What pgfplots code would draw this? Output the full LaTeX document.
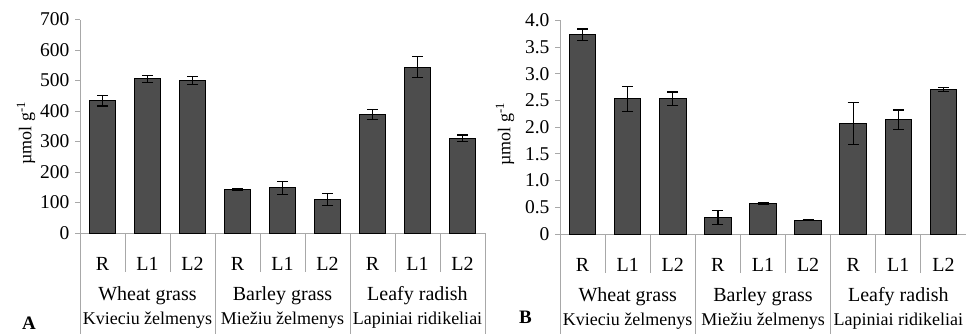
\documentclass[border=0pt]{standalone}
\usepackage{pgfplots}
\pgfplotsset{compat=1.18}
\usepackage{pgfplotstable}
\usepackage{fontspec}
\setmainfont{Liberation Serif}
\definecolor{barfill}{HTML}{4D4D4D}
\definecolor{axgray}{HTML}{A8A8A8}
\pgfplotstableread{
x y err
0 433 17
1 505 12
2 500 14
3 143 3
4 148 21
5 110 20
6 389 16
7 544 34
8 311 10
}\dataA
\pgfplotstableread{
x y err
0 3.73 0.11
1 2.53 0.23
2 2.53 0.13
3 0.31 0.13
4 0.57 0.02
5 0.26 0.01
6 2.07 0.39
7 2.14 0.18
8 2.71 0.04
}\dataB
\pgfplotsset{
  mystyle/.style={
    scale only axis,
    anchor=south west,
    axis lines=left,
    axis line style={-, axgray, line width=0.9pt},
    xmin=-0.5, xmax=8.5, ymin=0,
    xtick={0,...,8},
    xticklabels={R,L1,L2,R,L1,L2,R,L1,L2},
    major x tick style={draw=none},
    xticklabel style={anchor=center, yshift=-26pt, font=\fontsize{20}{22}\selectfont},
    ytick pos=left,
    tick align=outside,
    major tick length=5pt,
    major y tick style={axgray, line width=0.9pt},
    yticklabel style={font=\fontsize{19.5}{21}\selectfont, xshift=-2pt},
    /pgf/number format/assume math mode=true,
    clip=false,
  },
  mybars/.style={
    ybar, bar width=26.5pt, fill=barfill, draw=black, line width=1pt,
    error bars/.cd, y dir=both, y explicit,
    error bar style={black, line width=1.3pt},
    error mark options={rotate=90, black, line width=1.3pt, mark size=5.5pt},
  },
}
\newcommand{\groupdeco}{%
  \pgfplotsinvokeforeach{0.5,1.5,3.5,4.5,6.5,7.5}{\draw[axgray, line width=0.9pt] (axis cs:##1,0) -- ([yshift=-39pt]axis cs:##1,0);}
  \pgfplotsinvokeforeach{-0.5,2.5,5.5,8.5}{\draw[axgray, line width=0.9pt] (axis cs:##1,0) -- ([yshift=-101pt]axis cs:##1,0);}
  \node[font=\fontsize{20}{22}\selectfont] at ([yshift=-63pt]axis cs:1,0) {Wheat grass};
  \node[font=\fontsize{20}{22}\selectfont] at ([yshift=-63pt]axis cs:4,0) {Barley grass};
  \node[font=\fontsize{20}{22}\selectfont] at ([yshift=-63pt]axis cs:7,0) {Leafy radish};
  \node[font=\fontsize{18}{20}\selectfont] at ([yshift=-87pt]axis cs:1,0) {Kvieciu želmenys};
  \node[font=\fontsize{18}{20}\selectfont] at ([yshift=-87pt]axis cs:4,0) {Miežiu želmenys};
  \node[font=\fontsize{18}{20}\selectfont] at ([yshift=-87pt]axis cs:7,0) {Lapiniai ridikeliai};
}
\begin{document}
\begin{tikzpicture}
\path[use as bounding box] (0,0) rectangle (966pt,333pt);
\begin{axis}[mystyle,
  at={(80pt,100pt)}, width=405pt, height=213.5pt,
  ymax=700, ytick={0,100,...,700},
]
\addplot[mybars] table[x=x, y=y, y error=err] {\dataA};
\groupdeco
\end{axis}
\node[rotate=90, font=\fontsize{18}{20}\selectfont] at (26pt,200pt) {µmol g\textsuperscript{-1}};
\node[font=\bfseries\fontsize{19}{20}\selectfont, anchor=base west, inner sep=0pt] at (22pt,4pt) {A};
\begin{axis}[mystyle,
  at={(560pt,99pt)}, width=406pt, height=213.6pt,
  ymax=4, ytick={0,0.5,...,4.0},
  yticklabels={0,0.5,1.0,1.5,2.0,2.5,3.0,3.5,4.0},
]
\addplot[mybars] table[x=x, y=y, y error=err] {\dataB};
\groupdeco
\end{axis}
\node[rotate=90, font=\fontsize{18}{20}\selectfont] at (505pt,199pt) {µmol g\textsuperscript{-1}};
\node[font=\bfseries\fontsize{19}{20}\selectfont] at (525.5pt,15.5pt) {B};
\end{tikzpicture}
\end{document}
